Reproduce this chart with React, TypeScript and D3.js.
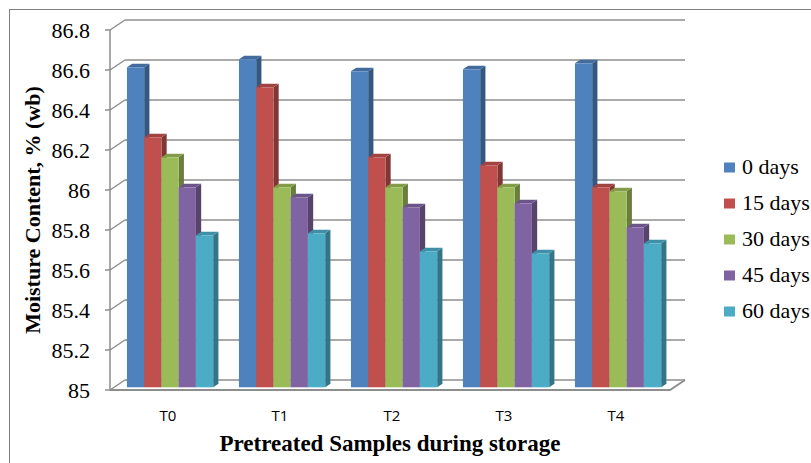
import React, { useEffect, useRef } from 'react';
import * as d3 from 'd3';

const categories = ['T0', 'T1', 'T2', 'T3', 'T4'];
const seriesNames = ['0 days', '15 days', '30 days', '45 days', '60 days'];
const days0 = [86.6, 86.64, 86.58, 86.59, 86.62];
const days15 = [86.25, 86.5, 86.15, 86.11, 86.0];
const days30 = [86.15, 86.0, 86.0, 86.0, 85.98];
const days45 = [86.0, 85.95, 85.9, 85.92, 85.8];
const days60 = [85.76, 85.77, 85.68, 85.67, 85.72];
const yTicks = [85, 85.2, 85.4, 85.6, 85.8, 86, 86.2, 86.4, 86.6, 86.8];
const colors = ['#4F81BD', '#C0504D', '#9BBB59', '#8064A2', '#4BACC6'];

const W = 811;
const H = 463;

export default function App() {
  const ref = useRef<SVGSVGElement>(null);

  useEffect(() => {
    const svg = d3.select(ref.current);
    svg.selectAll('*').remove();

    const series = [days0, days15, days30, days45, days60];
    // front plane of the 3d box, depth offset goes up-right
    const x0 = 110, x1 = 670;
    const depthX = 15, depthY = -10;
    const d0 = 0.27, d1 = 0.62; // bar depth inside the box

    const y = d3.scaleLinear().domain([85, 86.8]).range([390, 30]);
    const xBand = d3.scaleBand<string>()
      .domain(categories)
      .range([x0, x1])
      .paddingInner(0.23)
      .paddingOuter(0.115);
    const xSeries = d3.scaleBand<string>()
      .domain(seriesNames)
      .range([0, xBand.bandwidth()]);

    const grid = '#8e8e8e';
    const serif = '"Liberation Serif", "DejaVu Serif", serif';

    // outer frame
    svg.append('rect')
      .attr('x', 9.5).attr('y', 9.5)
      .attr('width', 900).attr('height', 600)
      .attr('fill', 'none').attr('stroke', '#7f7f7f');

    // walls
    const walls = svg.append('g').attr('stroke', grid).attr('stroke-width', 1.5).attr('fill', 'none');
    yTicks.forEach((t) => {
      walls.append('line')
        .attr('x1', x0 + depthX).attr('x2', x1 + depthX)
        .attr('y1', y(t) + depthY).attr('y2', y(t) + depthY);
      walls.append('line')
        .attr('x1', x0).attr('x2', x0 + depthX)
        .attr('y1', y(t)).attr('y2', y(t) + depthY);
      walls.append('line')
        .attr('x1', x0 - 5).attr('x2', x0)
        .attr('y1', y(t)).attr('y2', y(t));
    });
    // floor edge
    walls.append('path')
      .attr('d', `M${x0},${y(85)}H${x1}L${x1 + depthX},${y(85) + depthY}`)
      .attr('stroke-width', 2);
    // y axis line
    walls.append('line')
      .attr('x1', x0).attr('x2', x0)
      .attr('y1', y(86.8)).attr('y2', y(85));

    // bars
    const bars = svg.append('g');
    categories.forEach((c, ci) => {
      seriesNames.forEach((s, si) => {
        const v = series[si][ci];
        const bx = xBand(c)! + xSeries(s)! + d0 * depthX;
        const bw = xSeries.bandwidth();
        const top = y(v) + d0 * depthY;
        const bottom = y(85) + d0 * depthY;
        const dx = (d1 - d0) * depthX;
        const dy = (d1 - d0) * depthY;
        const col = d3.color(colors[si])!;
        bars.append('path')
          .attr('d', `M${bx + bw},${top}L${bx + bw + dx},${top + dy}V${bottom + dy}L${bx + bw},${bottom}Z`)
          .attr('fill', col.darker(1.1).toString());
        bars.append('path')
          .attr('d', `M${bx},${top}L${bx + dx},${top + dy}H${bx + bw + dx}L${bx + bw},${top}Z`)
          .attr('fill', col.darker(0.5).toString());
        bars.append('rect')
          .attr('x', bx).attr('y', top)
          .attr('width', bw).attr('height', bottom - top)
          .attr('fill', colors[si]);
      });
    });

    // y tick labels
    svg.append('g')
      .selectAll('text')
      .data(yTicks)
      .enter()
      .append('text')
      .attr('x', 90)
      .attr('y', (d) => y(d) + 8)
      .attr('text-anchor', 'end')
      .attr('font-family', serif)
      .attr('font-size', 22)
      .attr('fill', '#000')
      .text((d) => String(+d.toFixed(1)));

    // category labels
    svg.append('g')
      .selectAll('text')
      .data(categories)
      .enter()
      .append('text')
      .attr('x', (d) => xBand(d)! + xBand.bandwidth() / 2 + 2)
      .attr('y', 421)
      .attr('text-anchor', 'middle')
      .attr('font-family', '"Open Sans", "Noto Sans", sans-serif')
      .attr('font-size', 15)
      .attr('fill', '#000')
      .text((d) => d);

    // axis titles
    svg.append('text')
      .attr('transform', 'translate(40,210) rotate(-90)')
      .attr('text-anchor', 'middle')
      .attr('font-family', serif)
      .attr('font-weight', 'bold')
      .attr('font-size', 22)
      .text('Moisture Content, % (wb)');
    svg.append('text')
      .attr('x', 390)
      .attr('y', 451)
      .attr('text-anchor', 'middle')
      .attr('font-family', serif)
      .attr('font-weight', 'bold')
      .attr('font-size', 23)
      .text('Pretreated Samples during storage');

    // legend
    const legend = svg.append('g');
    seriesNames.forEach((s, i) => {
      const cy = 167.5 + i * 36;
      legend.append('rect')
        .attr('x', 724).attr('y', cy - 5)
        .attr('width', 11).attr('height', 10)
        .attr('fill', colors[i]);
      legend.append('text')
        .attr('x', 742)
        .attr('y', cy + 6)
        .attr('font-family', serif)
        .attr('font-size', 22)
        .text(s);
    });
  }, []);

  return (
    <svg
      ref={ref}
      width={W}
      height={H}
      style={{ position: 'absolute', left: 0, top: 0, background: '#fff' }}
    />
  );
}
